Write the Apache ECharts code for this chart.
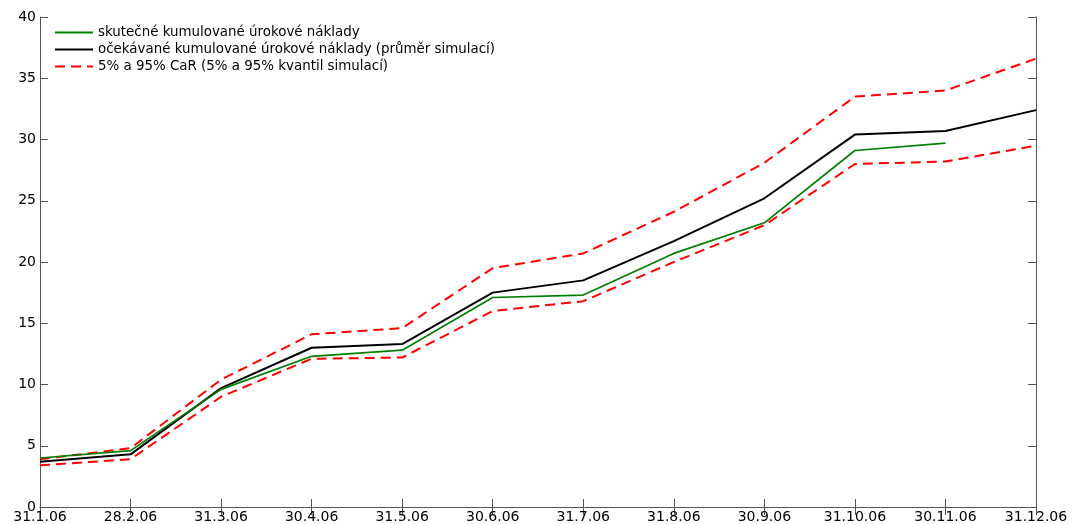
<!DOCTYPE html>
<html>
<head>
<meta charset="utf-8">
<script src="https://cdn.jsdelivr.net/npm/echarts@6/dist/echarts.min.js"></script>
<style>
  html, body { margin: 0; padding: 0; background: #fff; }
  #chart { width: 1072px; height: 524px; }
</style>
</head>
<body>
<div id="chart"></div>
<script>
// data
const dates = ['31.1.06', '28.2.06', '31.3.06', '30.4.06', '31.5.06', '30.6.06',
  '31.7.06', '31.8.06', '30.9.06', '31.10.06', '30.11.06', '31.12.06']
const actual = [4.0, 4.6, 9.6, 12.3, 12.8, 17.1, 17.3, 20.7, 23.2, 29.1, 29.7, null]
const expected = [3.7, 4.3, 9.7, 13.0, 13.3, 17.5, 18.5, 21.7, 25.2, 30.4, 30.7, 32.4]
const carHigh = [3.9, 4.8, 10.4, 14.1, 14.6, 19.5, 20.7, 24.1, 28.1, 33.5, 34.0, 36.6]
const carLow = [3.4, 3.9, 9.0, 12.1, 12.2, 16.0, 16.8, 20.0, 23.0, 28.0, 28.2, 29.5]
const yTicks = [0, 5, 10, 15, 20, 25, 30, 35, 40]

const names = [
  'skutečné kumulované úrokové náklady',
  'očekávané kumulované úrokové náklady (průměr simulací)',
  '5% a 95% CaR (5% a 95% kvantil simulací)'
]

const font = 'DejaVu Sans, Verdana, sans-serif'
const axisColor = '#555'

const chart = echarts.init(document.getElementById('chart'))

const tickStyle = { show: true, inside: true, length: 8, lineStyle: { color: axisColor } }

chart.setOption({
  animation: false,
  grid: { left: 40, right: 36, top: 17, bottom: 17, containLabel: false },
  legend: {
    orient: 'vertical',
    left: 54,
    top: 26,
    padding: 0,
    itemWidth: 38,
    itemHeight: 10,
    itemGap: 4,
    data: names,
    itemStyle: { opacity: 0 },
    textStyle: { fontFamily: font, fontSize: 13.4, color: '#000' }
  },
  xAxis: [{
    type: 'category',
    data: dates,
    boundaryGap: false,
    axisLine: { lineStyle: { color: axisColor } },
    axisTick: tickStyle,
    axisLabel: { fontFamily: font, fontSize: 14, color: '#000', margin: 3, interval: 0 },
    splitLine: { show: false }
  }, {
    type: 'category',
    data: dates,
    position: 'top',
    boundaryGap: false,
    axisLine: { lineStyle: { color: axisColor } },
    axisTick: tickStyle,
    axisLabel: { show: false }
  }],
  yAxis: [{
    type: 'value',
    min: yTicks[0],
    max: yTicks[yTicks.length - 1],
    interval: 5,
    axisLine: { show: true, lineStyle: { color: axisColor } },
    axisTick: tickStyle,
    axisLabel: { fontFamily: font, fontSize: 14, color: '#000', margin: 4 },
    splitLine: { show: false }
  }, {
    type: 'value',
    position: 'right',
    min: yTicks[0],
    max: yTicks[yTicks.length - 1],
    interval: 5,
    axisLine: { show: true, lineStyle: { color: axisColor } },
    axisTick: tickStyle,
    axisLabel: { show: false },
    splitLine: { show: false }
  }],
  series: [{
    name: names[0],
    type: 'line',
    data: actual,
    symbol: 'none',
    lineStyle: { color: '#007f00', width: 1.7 },
    itemStyle: { color: '#007f00' },
    z: 4
  }, {
    name: names[1],
    type: 'line',
    data: expected,
    symbol: 'none',
    lineStyle: { color: '#000', width: 2 },
    itemStyle: { color: '#000' },
    z: 3
  }, {
    name: names[2],
    type: 'line',
    data: carHigh,
    symbol: 'none',
    lineStyle: { color: '#ff0000', width: 2, type: [10, 6] },
    itemStyle: { color: '#ff0000' },
    z: 2
  }, {
    name: names[2],
    type: 'line',
    data: carLow,
    symbol: 'none',
    lineStyle: { color: '#ff0000', width: 2, type: [10, 6] },
    itemStyle: { color: '#ff0000' },
    z: 2
  }]
})
</script>
</body>
</html>
